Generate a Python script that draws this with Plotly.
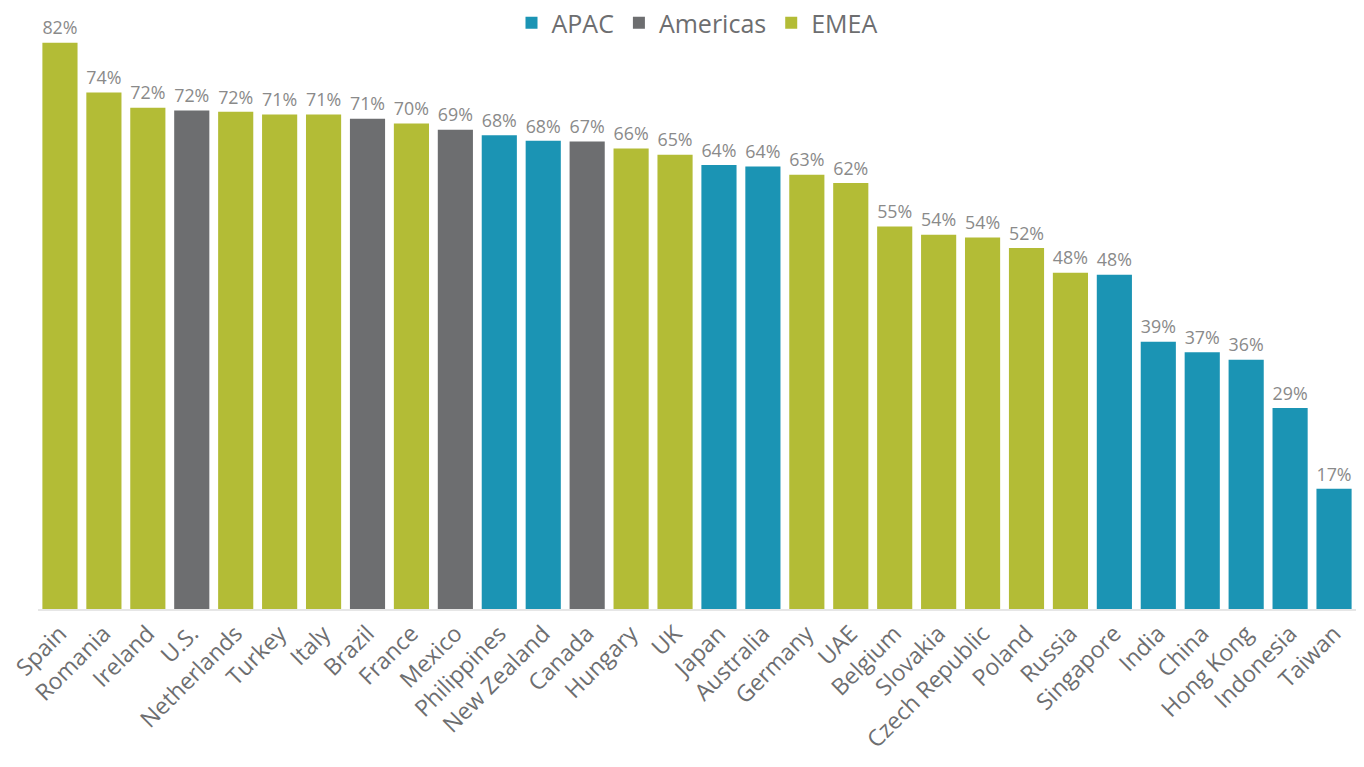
import plotly.graph_objects as go

countries = ["Spain", "Romania", "Ireland", "U.S.", "Netherlands", "Turkey", "Italy", "Brazil",
             "France", "Mexico", "Philippines", "New Zealand", "Canada", "Hungary", "UK", "Japan",
             "Australia", "Germany", "UAE", "Belgium", "Slovakia", "Czech Republic", "Poland",
             "Russia", "Singapore", "India", "China", "Hong Kong", "Indonesia", "Taiwan"]
regions = ["EMEA", "EMEA", "EMEA", "Americas", "EMEA", "EMEA", "EMEA", "Americas",
           "EMEA", "Americas", "APAC", "APAC", "Americas", "EMEA", "EMEA", "APAC",
           "APAC", "EMEA", "EMEA", "EMEA", "EMEA", "EMEA", "EMEA",
           "EMEA", "APAC", "APAC", "APAC", "APAC", "APAC", "APAC"]
values = [82.0, 74.8, 72.6, 72.2, 72.0, 71.6, 71.6, 71.0,
          70.3, 69.4, 68.6, 67.8, 67.7, 66.7, 65.8, 64.3,
          64.1, 62.9, 61.7, 55.4, 54.2, 53.8, 52.3,
          48.7, 48.4, 38.7, 37.2, 36.1, 29.1, 17.4]
labels = ["82%", "74%", "72%", "72%", "72%", "71%", "71%", "71%",
          "70%", "69%", "68%", "68%", "67%", "66%", "65%", "64%",
          "64%", "63%", "62%", "55%", "54%", "54%", "52%",
          "48%", "48%", "39%", "37%", "36%", "29%", "17%"]

region_order = ["APAC", "Americas", "EMEA"]
colors = {"APAC": "#1B94B4", "Americas": "#6D6E70", "EMEA": "#B3BC36"}

FONT = "Open Sans"

fig = go.Figure()
for reg in region_order:
    idx = [i for i, r in enumerate(regions) if r == reg]
    fig.add_trace(go.Bar(
        x=[countries[i] for i in idx],
        y=[values[i] for i in idx],
        text=[labels[i] for i in idx],
        name=reg,
        marker=dict(color=colors[reg], line=dict(width=0)),
        textposition="outside",
        textfont=dict(family=FONT, size=20, color="#8A8A8A"),
        cliponaxis=False,
        hoverinfo="x+y",
    ))

fig.update_layout(
    width=1364, height=767,
    barmode="overlay",
    bargap=0.2,
    plot_bgcolor="white", paper_bgcolor="white",
    margin=dict(l=38, r=8, t=0, b=158),
    font=dict(family=FONT, color="#6D6E70"),
    legend=dict(orientation="h", x=0.5, xanchor="center",
                y=1.0, yanchor="top",
                font=dict(family=FONT, size=25, color="#6D6E70"),
                itemsizing="constant", traceorder="normal", itemwidth=30),
    xaxis=dict(categoryorder="array", categoryarray=countries, tickangle=-45,
               tickfont=dict(family=FONT, size=23, color="#6D6E70"),
               showline=True, linecolor="#E6E6E6", linewidth=2, ticks="",
               showgrid=False, automargin=False),
    yaxis=dict(range=[0, 88.2], visible=False, showgrid=False, automargin=False),
)

fig.write_html("out.html",
               config={"displayModeBar": False},
               post_script="document.body.style.margin='0';document.body.style.overflow='hidden';")
